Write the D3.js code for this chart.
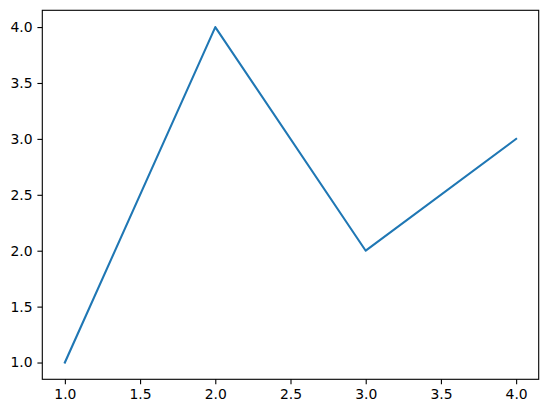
<!DOCTYPE html>
<html><head><meta charset="utf-8">
<script src="https://d3js.org/d3.v7.min.js"></script>
<style>body{margin:0;background:#fff}</style>
</head><body>
<script>
const xValues = [1, 2, 3, 4];
const yValues = [1, 4, 2, 3];
const xTicks = [1.0, 1.5, 2.0, 2.5, 3.0, 3.5, 4.0];
const yTicks = [1.0, 1.5, 2.0, 2.5, 3.0, 3.5, 4.0];

const W = 547, H = 413;
const L = 42.3, R = 538.7, T = 10.3, B = 379.3;
const svg = d3.select("body").append("svg").attr("width", W).attr("height", H);
const x = d3.scaleLinear().domain([0.85, 4.15]).range([L, R]);
const y = d3.scaleLinear().domain([0.85, 4.15]).range([B, T]);
const fmt = d3.format(".1f");

const xa = svg.append("g").attr("transform", `translate(0,${B})`)
  .call(d3.axisBottom(x).tickValues(xTicks).tickFormat(fmt).tickSizeOuter(0).tickSize(4.9).tickPadding(4.9));
const ya = svg.append("g").attr("transform", `translate(${L},0)`)
  .call(d3.axisLeft(y).tickValues(yTicks).tickFormat(fmt).tickSizeOuter(0).tickSize(4.9).tickPadding(4.9));
[xa, ya].forEach(a => {
  a.select(".domain").remove();
  a.selectAll("line").attr("stroke", "#000").attr("stroke-width", 1.1);
  a.selectAll("text").attr("fill", "#000").style("font-family", "DejaVu Sans").style("font-size", "13.9px");
});

svg.append("path")
  .datum(xValues.map((v, i) => [v, yValues[i]]))
  .attr("fill", "none").attr("stroke", "#1f77b4").attr("stroke-width", 2.08)
  .attr("stroke-linecap", "square").attr("stroke-linejoin", "round")
  .attr("d", d3.line().x(d => x(d[0])).y(d => y(d[1])));

svg.append("rect").attr("x", L).attr("y", T).attr("width", R - L).attr("height", B - T)
  .attr("fill", "none").attr("stroke", "#000").attr("stroke-width", 1.1);
</script>
</body></html>
